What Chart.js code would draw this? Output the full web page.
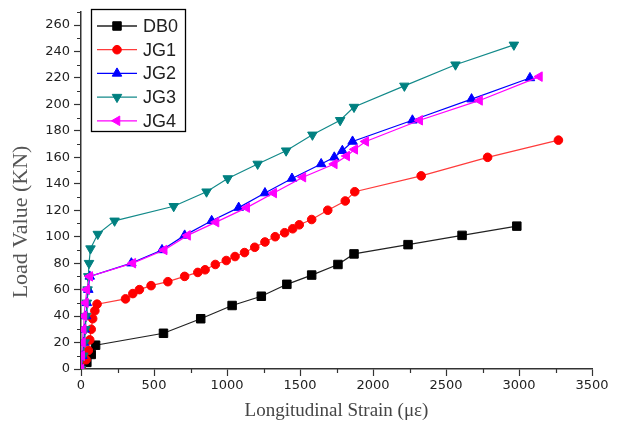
<!DOCTYPE html>
<html>
<head>
<meta charset="utf-8">
<script src="https://cdn.jsdelivr.net/npm/chart.js@4"></script>
<style>
  html, body { margin: 0; padding: 0; background: #fff; }
  #wrap { width: 617px; height: 434px; }
</style>
</head>
<body>
<div id="wrap"><canvas id="chartCanvas" width="617" height="434"></canvas></div>
<script>
// values
const seriesNames = ['DB0', 'JG1', 'JG2', 'JG3', 'JG4'];

const db0Strain = [0, 40, 70, 100, 565, 820, 1035, 1235, 1410, 1580, 1760, 1870, 2240, 2610, 2985];
const db0Load = [0, 5, 11, 18, 27, 38, 48, 55, 64, 71, 79, 87, 94, 101, 108];

const jg1Strain = [0, 35, 50, 60, 70, 80, 95, 110, 305, 355, 400, 480, 595, 710, 800, 850, 920, 995,
    1055, 1120, 1190, 1260, 1330, 1395, 1450, 1495, 1580, 1690, 1810, 1875, 2330, 2785, 3270];
const jg1Load = [0, 7, 14, 22, 30, 38, 44, 49, 53, 57, 60, 63, 66, 70, 73, 75, 79, 82,
    85, 88, 92, 96, 100, 103, 106, 109, 113, 120, 127, 134, 146, 160, 173];

const jg2Strain = [0, 10, 20, 25, 35, 40, 50, 60, 345, 555, 710, 895, 1080, 1260, 1445, 1645, 1735, 1790, 1860, 2270, 2675, 3075];
const jg2Load = [0, 10, 20, 30, 40, 50, 60, 70, 80, 90, 101, 112, 122, 133, 144, 155, 160, 165, 172, 188, 204, 220];

const jg3Strain = [0, 15, 25, 30, 35, 40, 45, 50, 55, 65, 115, 230, 635, 860, 1005, 1210, 1405, 1585, 1775, 1870, 2215, 2565, 2965];
const jg3Load = [0, 10, 20, 30, 40, 50, 60, 70, 80, 91, 102, 112, 123, 134, 144, 155, 165, 177, 188, 198, 214, 230, 245];

const jg4Strain = [0, 5, 10, 15, 20, 30, 40, 60, 355, 570, 730, 925, 1135, 1320, 1520, 1735, 1820, 1875, 1950, 2320, 2730, 3140];
const jg4Load = [0, 10, 20, 30, 40, 50, 60, 70, 80, 90, 101, 111, 122, 133, 145, 155, 161, 166, 172, 188, 203, 221];

const xTicks = [0, 500, 1000, 1500, 2000, 2500, 3000, 3500];
const xMinorTicks = [250, 750, 1250, 1750, 2250, 2750, 3250];
const yTicks = [0, 20, 40, 60, 80, 100, 120, 140, 160, 180, 200, 220, 240, 260];
const yMinorTicks = [10, 30, 50, 70, 90, 110, 130, 150, 170, 190, 210, 230, 250, 270];

const xTitle = 'Longitudinal Strain (\u03bc\u03b5)';
const yTitle = 'Load Value (KN)';

const tickFont = { family: '"DejaVu Sans", Verdana, sans-serif', size: 13 };

const styles = [
    { line: '#222222', fill: '#000000', pointStyle: 'rect', radius: 6, rotation: 0 },
    { line: '#ff3b3b', fill: '#ff0000', pointStyle: 'circle', radius: 4.3, rotation: 0 },
    { line: '#0000ff', fill: '#0000ff', pointStyle: 'triangle', radius: 5.5, rotation: 0 },
    { line: '#138a8a', fill: '#008080', pointStyle: 'triangle', radius: 5.5, rotation: 180 },
    { line: '#ff00ff', fill: '#ff00ff', pointStyle: 'triangle', radius: 5.5, rotation: 270 }
];

function pairs(xs, ys) {
    return xs.map((x, i) => ({ x: x, y: ys[i] }));
}

const seriesData = [
    pairs(db0Strain, db0Load),
    pairs(jg1Strain, jg1Load),
    pairs(jg2Strain, jg2Load),
    pairs(jg3Strain, jg3Load),
    pairs(jg4Strain, jg4Load)
];

const datasets = seriesNames.map((name, i) => ({
    label: name,
    data: seriesData[i],
    borderColor: styles[i].line,
    borderWidth: 1.2,
    backgroundColor: styles[i].fill,
    pointBackgroundColor: styles[i].fill,
    pointBorderColor: styles[i].fill,
    pointBorderWidth: 1,
    pointStyle: styles[i].pointStyle,
    pointRadius: styles[i].radius,
    pointRotation: styles[i].rotation,
    tension: 0,
    fill: false,
    order: seriesNames.length - i
}));

// short minor ticks, the y title and the boxed legend
const extrasPlugin = {
    id: 'extras',
    afterDraw(chart) {
        const ctx = chart.ctx;
        const xs = chart.scales.x;
        const ys = chart.scales.y;
        ctx.save();
        ctx.strokeStyle = '#333';
        ctx.lineWidth = 1.2;
        ctx.beginPath();
        yMinorTicks.forEach(v => {
            const py = Math.round(ys.getPixelForValue(v)) + 0.5;
            ctx.moveTo(xs.left - 4, py);
            ctx.lineTo(xs.left, py);
        });
        xMinorTicks.forEach(v => {
            const px = Math.round(xs.getPixelForValue(v)) + 0.5;
            ctx.moveTo(px, ys.bottom);
            ctx.lineTo(px, ys.bottom + 4);
        });
        ctx.stroke();

        // y axis title
        ctx.save();
        ctx.translate(21, 222);
        ctx.rotate(-Math.PI / 2);
        ctx.font = '22px "Liberation Serif", "Times New Roman", serif';
        ctx.fillStyle = '#555';
        ctx.textAlign = 'center';
        ctx.textBaseline = 'middle';
        ctx.fillText(yTitle, 0, 0);
        ctx.restore();

        // legend
        const boxL = 91, boxT = 9, boxR = 185, boxB = 131;
        ctx.strokeStyle = '#000';
        ctx.lineWidth = 1.3;
        ctx.strokeRect(boxL + 0.5, boxT + 0.5, boxR - boxL, boxB - boxT);
        ctx.font = '18px "Liberation Sans", Arial, sans-serif';
        ctx.textBaseline = 'middle';
        ctx.textAlign = 'left';
        seriesNames.forEach((name, i) => {
            const cy = 26 + i * 23.7;
            const st = styles[i];
            ctx.strokeStyle = st.line;
            ctx.lineWidth = 1.3;
            ctx.beginPath();
            ctx.moveTo(97, cy);
            ctx.lineTo(137, cy);
            ctx.stroke();
            ctx.fillStyle = st.fill;
            ctx.strokeStyle = st.fill;
            ctx.lineWidth = 1;
            Chart.helpers.drawPoint(ctx, {
                pointStyle: st.pointStyle,
                radius: st.radius,
                rotation: st.rotation,
                borderWidth: 1
            }, 117, cy);
            ctx.fillStyle = '#222';
            ctx.fillText(name, 143, cy + 1);
        });
        ctx.restore();
    }
};

document.addEventListener('DOMContentLoaded', function() {
    const ctx = document.getElementById('chartCanvas').getContext('2d');
    new Chart(ctx, {
        type: 'line',
        data: { datasets: datasets },
        options: {
            responsive: false,
            animation: false,
            layout: { padding: { top: 10, right: 25, left: 0, bottom: 0 } },
            plugins: {
                legend: { display: false },
                tooltip: { enabled: false }
            },
            scales: {
                x: {
                    type: 'linear',
                    min: 0,
                    max: 3500,
                    afterBuildTicks: scale => { scale.ticks = xTicks.map(v => ({ value: v })); },
                    afterFit: scale => { scale.height = 65; },
                    grid: {
                        drawOnChartArea: false,
                        drawTicks: true,
                        tickLength: 7,
                        tickColor: '#333',
                        tickWidth: 1.2
                    },
                    border: { display: true, color: '#333', width: 1.5 },
                    ticks: {
                        padding: 2,
                        color: '#222',
                        maxRotation: 0,
                        font: tickFont,
                        callback: v => String(v)
                    },
                    title: {
                        display: true,
                        text: xTitle,
                        color: '#444',
                        font: { family: '"Liberation Serif", "Times New Roman", serif', size: 19 },
                        padding: { top: 0, bottom: 12 }
                    }
                },
                y: {
                    type: 'linear',
                    min: 0,
                    max: 270,
                    afterBuildTicks: scale => { scale.ticks = yTicks.map(v => ({ value: v })); },
                    afterFit: scale => { scale.width = 81; },
                    grid: {
                        drawOnChartArea: false,
                        drawTicks: true,
                        tickLength: 7,
                        tickColor: '#333',
                        tickWidth: 1.2
                    },
                    border: { display: true, color: '#333', width: 1.5 },
                    ticks: {
                        padding: 4,
                        color: '#222',
                        font: tickFont,
                        callback: v => String(v)
                    }
                }
            }
        },
        plugins: [extrasPlugin]
    });
});
</script>
</body>
</html>
